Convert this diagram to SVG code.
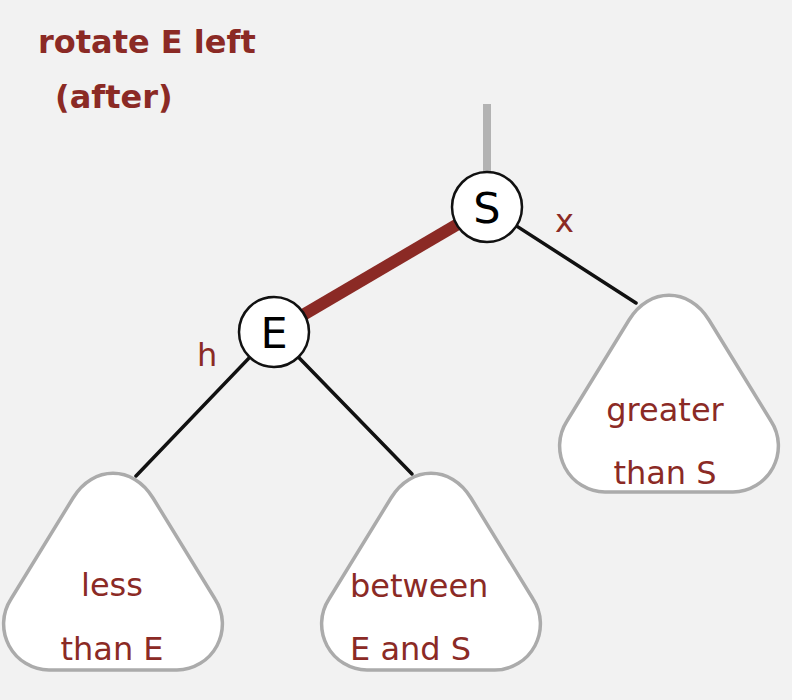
<svg xmlns="http://www.w3.org/2000/svg" width="792" height="700" viewBox="0 0 792 700">
  <style>
    .title { font-family: "DejaVu Sans", "Liberation Sans", sans-serif; font-weight: bold; font-size: 32px; fill: #8b2a25; }
    .sub { font-family: "DejaVu Sans", "Liberation Sans", sans-serif; font-size: 32px; fill: #8b2a25; }
    .key { font-family: "DejaVu Sans", "Liberation Sans", sans-serif; font-size: 43px; fill: #000; text-anchor: middle; }
    .node { fill: #ffffff; stroke: #111; stroke-width: 2.5; }
    .tree { fill: #ffffff; stroke: #ababab; stroke-width: 3.5; stroke-linejoin: round; }
    .link { stroke: #111; stroke-width: 3.5; stroke-linecap: round; }
  </style>
  <defs>
    <!-- rounded-triangle subtree outline, anchored at its apex -->
    <path id="subtree" d="M -40,25 C -20,-8 20,-8 40,25 L 102,126 A 46 46 0 0 1 64,197 L -64,197 A 46 46 0 0 1 -102,126 Z"/>
  </defs>

  <rect width="792" height="700" fill="#f2f2f2"/>

  <text class="title" x="38" y="53">rotate E left</text>
  <text class="title" x="55" y="108">(after)</text>

  <g id="connectors">
    <line x1="487" y1="104" x2="487" y2="175" stroke="#b3b3b3" stroke-width="8"/>
    <line x1="487" y1="207" x2="274" y2="332" stroke="#8b2a25" stroke-width="12"/>
    <line class="link" x1="274" y1="332" x2="136" y2="476"/>
    <line class="link" x1="274" y1="332" x2="412" y2="474"/>
    <line class="link" x1="487" y1="207" x2="636" y2="303"/>
  </g>

  <g id="tree-less">
    <use href="#subtree" class="tree" transform="translate(113,473)"/>
    <text class="sub" x="112" y="596" text-anchor="middle">less</text>
    <text class="sub" x="112" y="660" text-anchor="middle">than E</text>
  </g>

  <g id="tree-between">
    <use href="#subtree" class="tree" transform="translate(431,473)"/>
    <text class="sub" x="350" y="597">between</text>
    <text class="sub" x="350" y="660">E and S</text>
  </g>

  <g id="tree-greater">
    <use href="#subtree" class="tree" transform="translate(669,295)"/>
    <text class="sub" x="665" y="421" text-anchor="middle">greater</text>
    <text class="sub" x="665" y="484" text-anchor="middle">than S</text>
  </g>

  <g id="node-S">
    <circle class="node" cx="487" cy="207" r="35"/>
    <text class="key" x="487" y="223">S</text>
    <text class="sub" x="555" y="232">x</text>
  </g>

  <g id="node-E">
    <circle class="node" cx="274" cy="332" r="35"/>
    <text class="key" x="274" y="348">E</text>
    <text class="sub" x="197" y="366">h</text>
  </g>
</svg>
